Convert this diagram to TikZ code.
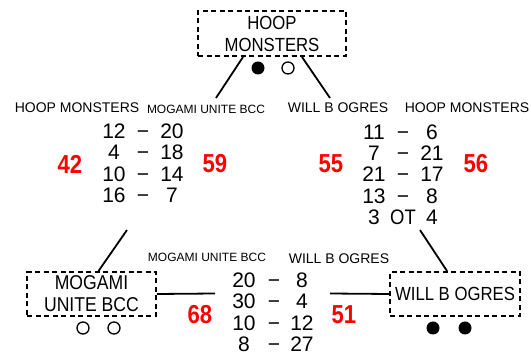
\documentclass[tikz,border=0pt]{standalone}
\usepackage{fontspec}
\setmainfont{Liberation Sans}
\newfontfamily\boxfont[FakeStretch=0.88]{Liberation Sans}
\newfontfamily\redfont[FakeStretch=0.85]{Liberation Sans}
\usepackage{tikz}
\tikzstyle{team} = [rectangle, draw=black, line width=2pt, dash pattern=on 5pt off 3.5pt, align=center, inner sep=0pt, font=\boxfont\fontsize{19}{22}\selectfont]
\tikzstyle{teamname} = [inner sep=0pt, font=\fontsize{14}{14}\selectfont]
\tikzstyle{smallname} = [inner sep=0pt, font=\fontsize{12}{12}\selectfont]
\tikzstyle{score} = [inner sep=0pt, text height=15pt, text depth=0pt, font=\fontsize{21}{21}\selectfont]
\tikzstyle{total} = [inner sep=0pt, text=red, font=\redfont\bfseries\fontsize{26}{26}\selectfont]
\tikzstyle{win} = [circle, fill=black, minimum size=13pt, inner sep=0pt]
\tikzstyle{loss} = [circle, draw=black, line width=1.3pt, minimum size=12pt, inner sep=0pt]
\tikzstyle{link} = [line width=1.8pt]

\begin{document}
\begin{tikzpicture}[x=1pt, y=-1pt]
  \useasboundingbox (0,0) rectangle (531,355);

  \node (hoop) [team, minimum width=148pt, minimum height=45pt] at (272,33.5) {HOOP\\MONSTERS};
  \node (mogami) [team, minimum width=129pt, minimum height=44pt, font=\boxfont\fontsize{20}{22}\selectfont] at (91.5,294) {MOGAMI\\UNITE BCC};
  \node (ogres) [team, minimum width=130pt, minimum height=44pt] at (455,294) {WILL B OGRES};

  \node (hoopw) [win] at (258,68) {};
  \node (hoopl) [loss] at (288,68) {};
  \node (mogamil1) [loss] at (83,328) {};
  \node (mogamil2) [loss] at (114,328) {};
  \node (ogresw1) [win] at (433,328) {};
  \node (ogresw2) [win] at (465,328) {};

  \node (g1home) [teamname] at (77,108) {HOOP MONSTERS};
  \node (g1away) [smallname] at (206,109) {MOGAMI UNITE BCC};
  \node (g2home) [teamname] at (338,108) {WILL B OGRES};
  \node (g2away) [teamname] at (467,108) {HOOP MONSTERS};
  \node (g3home) [smallname] at (207,257) {MOGAMI UNITE BCC};
  \node (g3away) [teamname] at (339,259) {WILL B OGRES};

  \foreach \a/\b [count=\i] in {12/20, 4/18, 10/14, 16/7} {
    \node (g1l\i) [score] at (114,109.5+21.5*\i) {\a};
    \node (g1d\i) [score] at (143,109.5+21.5*\i) {−};
    \node (g1r\i) [score] at (172,109.5+21.5*\i) {\b};
  }
  \foreach \a/\b [count=\i] in {11/6, 7/21, 21/17, 13/8} {
    \node (g2l\i) [score] at (374,110.75+21.25*\i) {\a};
    \node (g2d\i) [score] at (403,110.75+21.25*\i) {−};
    \node (g2r\i) [score] at (432,110.75+21.25*\i) {\b};
  }
  \node (g2l5) [score] at (374,217) {3};
  \node (g2d5) [score, font=\boxfont\fontsize{21}{21}\selectfont] at (403,217) {OT};
  \node (g2r5) [score] at (432,217) {4};
  \foreach \a/\b [count=\i] in {20/8, 30/4, 10/12, 8/27} {
    \node (g3l\i) [score] at (244,258.5+21.5*\i) {\a};
    \node (g3d\i) [score] at (274,258.5+21.5*\i) {−};
    \node (g3r\i) [score] at (302,258.5+21.5*\i) {\b};
  }

  \node (g1ht) [total] at (70,164) {42};
  \node (g1at) [total] at (215,164) {59};
  \node (g2ht) [total] at (331,164) {55};
  \node (g2at) [total] at (476,164) {56};
  \node (g3ht) [total] at (200,315) {68};
  \node (g3at) [total] at (344,315) {51};

  \coordinate (g1top) at (216,98);
  \coordinate (g2top) at (330,98);
  \coordinate (g1bot) at (127,230);
  \coordinate (g2bot) at (420,230);
  \coordinate (g3left) at (215,293.5);
  \coordinate (g3right) at (330,293.5);

  \draw [link] ([xshift=-29pt]hoop.south) -- (g1top);
  \draw [link] ([xshift=30pt]hoop.south) -- (g2top);
  \draw [link] (g1bot) -- ([xshift=7pt]mogami.north);
  \draw [link] (g2bot) -- ([xshift=-8pt]ogres.north);
  \draw [link] (mogami.east) -- (g3left);
  \draw [link] (g3right) -- (ogres.west);

\end{tikzpicture}
\end{document}
